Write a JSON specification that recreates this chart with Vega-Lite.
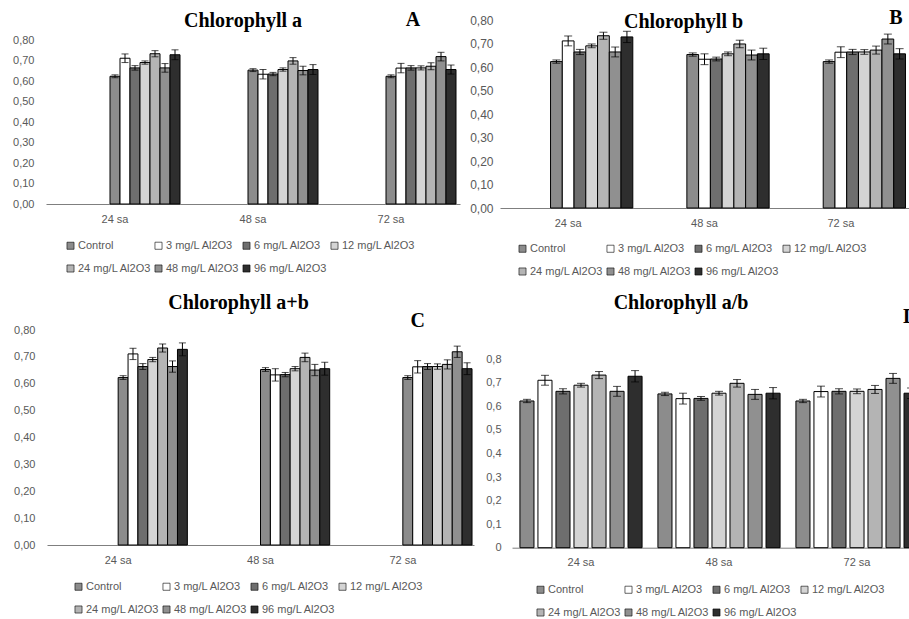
{
  "$schema": "https://vega.github.io/schema/vega-lite/v6.json",
  "width": 909,
  "height": 619,
  "autosize": "none",
  "padding": 0,
  "background": "white",
  "config": {"view": {"stroke": null}},
  "datasets": {
    "vals": [
      {"time": "24 sa", "dose": "Control", "v": 0.623, "e": 0.007},
      {"time": "24 sa", "dose": "3 mg/L Al2O3", "v": 0.711, "e": 0.021},
      {"time": "24 sa", "dose": "6 mg/L Al2O3", "v": 0.664, "e": 0.011},
      {"time": "24 sa", "dose": "12 mg/L Al2O3", "v": 0.690, "e": 0.008},
      {"time": "24 sa", "dose": "24 mg/L Al2O3", "v": 0.733, "e": 0.015},
      {"time": "24 sa", "dose": "48 mg/L Al2O3", "v": 0.664, "e": 0.021},
      {"time": "24 sa", "dose": "96 mg/L Al2O3", "v": 0.728, "e": 0.024},
      {"time": "48 sa", "dose": "Control", "v": 0.653, "e": 0.007},
      {"time": "48 sa", "dose": "3 mg/L Al2O3", "v": 0.633, "e": 0.023},
      {"time": "48 sa", "dose": "6 mg/L Al2O3", "v": 0.634, "e": 0.008},
      {"time": "48 sa", "dose": "12 mg/L Al2O3", "v": 0.656, "e": 0.008},
      {"time": "48 sa", "dose": "24 mg/L Al2O3", "v": 0.698, "e": 0.016},
      {"time": "48 sa", "dose": "48 mg/L Al2O3", "v": 0.651, "e": 0.021},
      {"time": "48 sa", "dose": "96 mg/L Al2O3", "v": 0.656, "e": 0.024},
      {"time": "72 sa", "dose": "Control", "v": 0.623, "e": 0.007},
      {"time": "72 sa", "dose": "3 mg/L Al2O3", "v": 0.663, "e": 0.023},
      {"time": "72 sa", "dose": "6 mg/L Al2O3", "v": 0.664, "e": 0.011},
      {"time": "72 sa", "dose": "12 mg/L Al2O3", "v": 0.664, "e": 0.010},
      {"time": "72 sa", "dose": "24 mg/L Al2O3", "v": 0.672, "e": 0.017},
      {"time": "72 sa", "dose": "48 mg/L Al2O3", "v": 0.719, "e": 0.021},
      {"time": "72 sa", "dose": "96 mg/L Al2O3", "v": 0.656, "e": 0.022}
    ]
  },
  "layer": [
    {
      "layer": [
        {
          "data": {"name": "vals"},
          "mark": {"type": "bar", "stroke": "#000", "strokeWidth": 1},
          "encoding": {
            "x": {"field": "time", "type": "nominal", "scale": {"domain": ["24 sa", "48 sa", "72 sa"], "range": [46, 460], "paddingInner": 0, "paddingOuter": 0},
              "axis": {"orient": "bottom", "offset": -415, "title": null, "ticks": false, "labelPadding": 9, "labelAngle": 0, "domainColor": "#7f7f7f", "labelFontSize": 11, "labelColor": "#595959", "labelFont": "Liberation Sans", "grid": false}},
            "xOffset": {"field": "dose", "type": "nominal", "scale": {"domain": ["_1", "_2", "_3", "_4", "_5", "_6", "Control", "3 mg/L Al2O3", "6 mg/L Al2O3", "12 mg/L Al2O3", "24 mg/L Al2O3", "48 mg/L Al2O3", "96 mg/L Al2O3"], "paddingInner": 0, "paddingOuter": 0.4}},
            "y": {"field": "v", "type": "quantitative", "scale": {"domain": [0, 0.8], "range": [204, 40], "nice": false},
              "axis": {"orient": "left", "offset": -46, "title": null, "values": [0, 0.1, 0.2, 0.3, 0.4, 0.5, 0.6, 0.7, 0.8], "labelExpr": "replace(format(datum.value, '.2f'), '.', ',')", "domain": false, "ticks": false, "grid": false, "labelPadding": 12, "labelFontSize": 11, "labelColor": "#595959", "labelFont": "Liberation Sans"}},
            "fill": {"field": "dose", "type": "nominal",
              "scale": {"domain": ["Control", "3 mg/L Al2O3", "6 mg/L Al2O3", "12 mg/L Al2O3", "24 mg/L Al2O3", "48 mg/L Al2O3", "96 mg/L Al2O3"], "range": ["#8c8c8c", "#ffffff", "#6e6e6e", "#d4d4d4", "#b4b4b4", "#909090", "#2e2e2e"]},
              "legend": {"orient": "none", "direction": "horizontal", "legendX": 65, "legendY": 240, "columns": 4, "title": null, "symbolType": "square", "symbolSize": 50, "symbolStrokeColor": "#000", "symbolStrokeWidth": 0.6, "labelFontSize": 11, "labelColor": "#595959", "labelFont": "Liberation Sans", "columnPadding": 1, "rowPadding": 11, "padding": 0, "labelOffset": 2}}
          }
        },
        {
          "data": {"name": "vals"},
          "mark": {"type": "errorbar", "ticks": {"size": 7}, "color": "#000"},
          "encoding": {
            "x": {"field": "time", "type": "nominal"},
            "xOffset": {"field": "dose", "type": "nominal"},
            "y": {"field": "v", "type": "quantitative"},
            "yError": {"field": "e"}
          }
        },
        {
          "data": {"values": [{"t": "Chlorophyll a"}]},
          "mark": {"type": "text", "font": "Liberation Serif", "fontWeight": "bold", "fontSize": 20, "dx": -10, "baseline": "middle", "color": "#000"},
          "encoding": {"x": {"datum": "48 sa", "type": "nominal"}, "y": {"datum": 0.893, "type": "quantitative"}, "text": {"field": "t"}}
        },
        {
          "data": {"values": [{"t": "A"}]},
          "mark": {"type": "text", "font": "Liberation Serif", "fontWeight": "bold", "fontSize": 20, "dx": 22, "baseline": "middle", "color": "#000"},
          "encoding": {"x": {"datum": "72 sa", "type": "nominal"}, "y": {"datum": 0.898, "type": "quantitative"}, "text": {"field": "t"}}
        }
      ]
    },
    {
      "layer": [
        {
          "data": {"name": "vals"},
          "mark": {"type": "bar", "stroke": "#000", "strokeWidth": 1},
          "encoding": {
            "x": {"field": "time", "type": "nominal", "scale": {"domain": ["24 sa", "48 sa", "72 sa"], "range": [500, 909], "paddingInner": 0, "paddingOuter": 0},
              "axis": {"orient": "bottom", "offset": -411, "title": null, "ticks": false, "labelPadding": 9, "labelAngle": 0, "domainColor": "#7f7f7f", "labelFontSize": 11, "labelColor": "#595959", "labelFont": "Liberation Sans", "grid": false}},
            "xOffset": {"field": "dose", "type": "nominal", "scale": {"domain": ["_1", "_2", "_3", "_4", "Control", "3 mg/L Al2O3", "6 mg/L Al2O3", "12 mg/L Al2O3", "24 mg/L Al2O3", "48 mg/L Al2O3", "96 mg/L Al2O3"], "paddingInner": 0, "paddingOuter": 0.3}},
            "y": {"field": "v", "type": "quantitative", "scale": {"domain": [0, 0.8], "range": [208, 20], "nice": false},
              "axis": {"orient": "left", "offset": -500, "title": null, "values": [0, 0.1, 0.2, 0.3, 0.4, 0.5, 0.6, 0.7, 0.8], "labelExpr": "replace(format(datum.value, '.2f'), '.', ',')", "domain": false, "ticks": false, "grid": false, "labelPadding": 7, "labelFontSize": 12, "labelColor": "#595959", "labelFont": "Liberation Sans"}},
            "fill": {"field": "dose", "type": "nominal",
              "scale": {"domain": ["Control", "3 mg/L Al2O3", "6 mg/L Al2O3", "12 mg/L Al2O3", "24 mg/L Al2O3", "48 mg/L Al2O3", "96 mg/L Al2O3"], "range": ["#8c8c8c", "#ffffff", "#6e6e6e", "#d4d4d4", "#b4b4b4", "#909090", "#2e2e2e"]},
              "legend": {"orient": "none", "direction": "horizontal", "legendX": 517, "legendY": 243, "columns": 4, "title": null, "symbolType": "square", "symbolSize": 50, "symbolStrokeColor": "#000", "symbolStrokeWidth": 0.6, "labelFontSize": 11, "labelColor": "#595959", "labelFont": "Liberation Sans", "columnPadding": 1, "rowPadding": 11, "padding": 0, "labelOffset": 2}}
          }
        },
        {
          "data": {"name": "vals"},
          "mark": {"type": "errorbar", "ticks": {"size": 8}, "color": "#000"},
          "encoding": {
            "x": {"field": "time", "type": "nominal"},
            "xOffset": {"field": "dose", "type": "nominal"},
            "y": {"field": "v", "type": "quantitative"},
            "yError": {"field": "e"}
          }
        },
        {
          "data": {"values": [{"t": "Chlorophyll b"}]},
          "mark": {"type": "text", "font": "Liberation Serif", "fontWeight": "bold", "fontSize": 20, "dx": -21, "baseline": "middle", "color": "#000"},
          "encoding": {"x": {"datum": "48 sa", "type": "nominal"}, "y": {"datum": 0.791, "type": "quantitative"}, "text": {"field": "t"}}
        },
        {
          "data": {"values": [{"t": "B"}]},
          "mark": {"type": "text", "font": "Liberation Serif", "fontWeight": "bold", "fontSize": 20, "dx": 55, "baseline": "middle", "color": "#000"},
          "encoding": {"x": {"datum": "72 sa", "type": "nominal"}, "y": {"datum": 0.809, "type": "quantitative"}, "text": {"field": "t"}}
        }
      ]
    },
    {
      "layer": [
        {
          "data": {"name": "vals"},
          "mark": {"type": "bar", "stroke": "#000", "strokeWidth": 1},
          "encoding": {
            "x": {"field": "time", "type": "nominal", "scale": {"domain": ["24 sa", "48 sa", "72 sa"], "range": [47, 474], "paddingInner": 0, "paddingOuter": 0},
              "axis": {"orient": "bottom", "offset": -74, "title": null, "ticks": false, "labelPadding": 9, "labelAngle": 0, "domainColor": "#7f7f7f", "labelFontSize": 11, "labelColor": "#595959", "labelFont": "Liberation Sans", "grid": false}},
            "xOffset": {"field": "dose", "type": "nominal", "scale": {"domain": ["_1", "_2", "_3", "_4", "_5", "_6", "_7", "Control", "3 mg/L Al2O3", "6 mg/L Al2O3", "12 mg/L Al2O3", "24 mg/L Al2O3", "48 mg/L Al2O3", "96 mg/L Al2O3"], "paddingInner": 0, "paddingOuter": 0.2}},
            "y": {"field": "v", "type": "quantitative", "scale": {"domain": [0, 0.8], "range": [545, 330], "nice": false},
              "axis": {"orient": "left", "offset": -47, "title": null, "values": [0, 0.1, 0.2, 0.3, 0.4, 0.5, 0.6, 0.7, 0.8], "labelExpr": "replace(format(datum.value, '.2f'), '.', ',')", "domain": false, "ticks": false, "grid": false, "labelPadding": 12, "labelFontSize": 11, "labelColor": "#595959", "labelFont": "Liberation Sans"}},
            "fill": {"field": "dose", "type": "nominal",
              "scale": {"domain": ["Control", "3 mg/L Al2O3", "6 mg/L Al2O3", "12 mg/L Al2O3", "24 mg/L Al2O3", "48 mg/L Al2O3", "96 mg/L Al2O3"], "range": ["#8c8c8c", "#ffffff", "#6e6e6e", "#d4d4d4", "#b4b4b4", "#909090", "#2e2e2e"]},
              "legend": {"orient": "none", "direction": "horizontal", "legendX": 73, "legendY": 581, "columns": 4, "title": null, "symbolType": "square", "symbolSize": 50, "symbolStrokeColor": "#000", "symbolStrokeWidth": 0.6, "labelFontSize": 11, "labelColor": "#595959", "labelFont": "Liberation Sans", "columnPadding": 1, "rowPadding": 11, "padding": 0, "labelOffset": 2}}
          }
        },
        {
          "data": {"name": "vals"},
          "mark": {"type": "errorbar", "ticks": {"size": 7}, "color": "#000"},
          "encoding": {
            "x": {"field": "time", "type": "nominal"},
            "xOffset": {"field": "dose", "type": "nominal"},
            "y": {"field": "v", "type": "quantitative"},
            "yError": {"field": "e"}
          }
        },
        {
          "data": {"values": [{"t": "Chlorophyll a+b"}]},
          "mark": {"type": "text", "font": "Liberation Serif", "fontWeight": "bold", "fontSize": 20, "dx": -22, "baseline": "middle", "color": "#000"},
          "encoding": {"x": {"datum": "48 sa", "type": "nominal"}, "y": {"datum": 0.9, "type": "quantitative"}, "text": {"field": "t"}}
        },
        {
          "data": {"values": [{"t": "C"}]},
          "mark": {"type": "text", "font": "Liberation Serif", "fontWeight": "bold", "fontSize": 20, "dx": 15, "baseline": "middle", "color": "#000"},
          "encoding": {"x": {"datum": "72 sa", "type": "nominal"}, "y": {"datum": 0.833, "type": "quantitative"}, "text": {"field": "t"}}
        }
      ]
    },
    {
      "layer": [
        {
          "data": {"name": "vals"},
          "mark": {"type": "bar", "stroke": "#000", "strokeWidth": 1},
          "encoding": {
            "x": {"field": "time", "type": "nominal", "scale": {"domain": ["24 sa", "48 sa", "72 sa"], "range": [512, 926], "paddingInner": 0, "paddingOuter": 0},
              "axis": {"orient": "bottom", "offset": -71.3, "title": null, "ticks": false, "labelPadding": 9, "labelAngle": 0, "domainColor": "#7f7f7f", "labelFontSize": 11, "labelColor": "#595959", "labelFont": "Liberation Sans", "grid": false}},
            "xOffset": {"field": "dose", "type": "nominal", "scale": {"domain": ["Control", "3 mg/L Al2O3", "6 mg/L Al2O3", "12 mg/L Al2O3", "24 mg/L Al2O3", "48 mg/L Al2O3", "96 mg/L Al2O3"], "paddingInner": 0.22, "paddingOuter": 0.44}},
            "y": {"field": "v", "type": "quantitative", "scale": {"domain": [0, 0.8], "range": [547.7, 359.3], "nice": false},
              "axis": {"orient": "left", "offset": -512, "title": null, "values": [0, 0.1, 0.2, 0.3, 0.4, 0.5, 0.6, 0.7, 0.8], "labelExpr": "replace(format(datum.value, '.1~f'), '.', ',')", "domain": false, "ticks": false, "grid": false, "labelPadding": 11, "labelFontSize": 11, "labelColor": "#595959", "labelFont": "Liberation Sans"}},
            "fill": {"field": "dose", "type": "nominal",
              "scale": {"domain": ["Control", "3 mg/L Al2O3", "6 mg/L Al2O3", "12 mg/L Al2O3", "24 mg/L Al2O3", "48 mg/L Al2O3", "96 mg/L Al2O3"], "range": ["#8c8c8c", "#ffffff", "#6e6e6e", "#d4d4d4", "#b4b4b4", "#909090", "#2e2e2e"]},
              "legend": {"orient": "none", "direction": "horizontal", "legendX": 535, "legendY": 584, "columns": 4, "title": null, "symbolType": "square", "symbolSize": 50, "symbolStrokeColor": "#000", "symbolStrokeWidth": 0.6, "labelFontSize": 11, "labelColor": "#595959", "labelFont": "Liberation Sans", "columnPadding": 1, "rowPadding": 11, "padding": 0, "labelOffset": 2}}
          }
        },
        {
          "data": {"name": "vals"},
          "mark": {"type": "errorbar", "ticks": {"size": 8}, "color": "#000"},
          "encoding": {
            "x": {"field": "time", "type": "nominal"},
            "xOffset": {"field": "dose", "type": "nominal"},
            "y": {"field": "v", "type": "quantitative"},
            "yError": {"field": "e"}
          }
        },
        {
          "data": {"values": [{"t": "Chlorophyll a/b"}]},
          "mark": {"type": "text", "font": "Liberation Serif", "fontWeight": "bold", "fontSize": 20, "dx": -38, "baseline": "middle", "color": "#000"},
          "encoding": {"x": {"datum": "48 sa", "type": "nominal"}, "y": {"datum": 1.039, "type": "quantitative"}, "text": {"field": "t"}}
        },
        {
          "data": {"values": [{"t": "D"}]},
          "mark": {"type": "text", "font": "Liberation Serif", "fontWeight": "bold", "fontSize": 20, "dx": 46, "align": "left", "baseline": "middle", "color": "#000"},
          "encoding": {"x": {"datum": "72 sa", "type": "nominal"}, "y": {"datum": 0.98, "type": "quantitative"}, "text": {"field": "t"}}
        }
      ]
    }
  ],
  "resolve": {
    "scale": {"x": "independent", "y": "independent", "xOffset": "independent", "fill": "independent"},
    "axis": {"x": "independent", "y": "independent"},
    "legend": {"fill": "independent"}
  }
}
